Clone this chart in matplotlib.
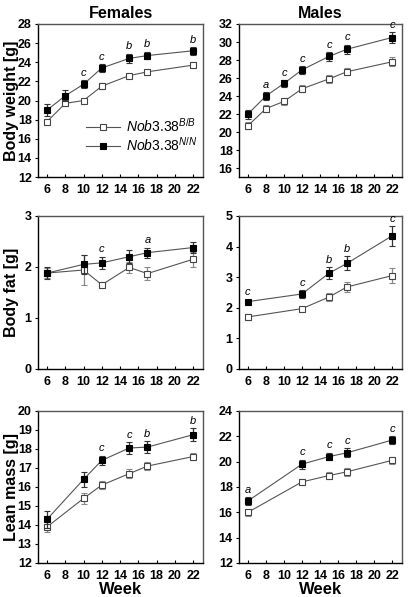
import numpy as np
import matplotlib
matplotlib.use("Agg")
import matplotlib.pyplot as plt
from matplotlib.lines import Line2D

plt.rcParams['font.family'] = ['Liberation Sans', 'DejaVu Sans']
plt.rcParams['mathtext.fontset'] = 'custom'
plt.rcParams['mathtext.it'] = 'Liberation Sans:italic'
plt.rcParams['mathtext.rm'] = 'Liberation Sans'

# data
weeks_bw = [6, 8, 10, 12, 15, 17, 22]
weeks_comp = [6, 10, 12, 15, 17, 22]
weeks_comp_m = [6, 12, 15, 17, 22]

# body weight, females
f_bw_bb = [17.8, 19.7, 20.0, 21.5, 22.6, 23.0, 23.7]
f_bw_bb_err = [0.3, 0.3, 0.2, 0.3, 0.2, 0.3, 0.3]
f_bw_nn = [19.0, 20.5, 21.7, 23.4, 24.4, 24.7, 25.2]
f_bw_nn_err = [0.6, 0.6, 0.4, 0.4, 0.5, 0.4, 0.4]
f_bw_sig = ['', '', 'c', 'c', 'b', 'b', 'b']

# body weight, males
m_bw_bb = [20.7, 22.6, 23.4, 24.8, 25.9, 26.7, 27.8]
m_bw_bb_err = [0.4, 0.4, 0.4, 0.4, 0.4, 0.4, 0.5]
m_bw_nn = [22.0, 24.0, 25.4, 26.9, 28.4, 29.2, 30.5]
m_bw_nn_err = [0.5, 0.4, 0.4, 0.4, 0.5, 0.5, 0.6]
m_bw_sig = ['', 'a', 'c', 'c', 'c', 'c', 'c']

# body fat, females
f_fat_bb = [1.88, 1.94, 1.65, 1.99, 1.87, 2.15]
f_fat_bb_err = [0.1, 0.3, 0.05, 0.1, 0.12, 0.15]
f_fat_nn = [1.88, 2.05, 2.08, 2.20, 2.28, 2.38]
f_fat_nn_err = [0.12, 0.18, 0.12, 0.13, 0.1, 0.1]
f_fat_sig = ['', '', 'c', '', 'a', '']

# body fat, males
m_fat_bb = [1.70, 1.97, 2.35, 2.68, 3.05]
m_fat_bb_err = [0.1, 0.07, 0.13, 0.15, 0.25]
m_fat_nn = [2.20, 2.45, 3.13, 3.45, 4.35]
m_fat_nn_err = [0.06, 0.13, 0.2, 0.23, 0.32]
m_fat_sig = ['c', 'c', 'b', 'b', 'c']

# lean mass, females
f_lean_bb = [13.9, 15.4, 16.1, 16.7, 17.1, 17.6]
f_lean_bb_err = [0.25, 0.3, 0.2, 0.25, 0.2, 0.2]
f_lean_nn = [14.3, 16.4, 17.4, 18.05, 18.1, 18.75]
f_lean_nn_err = [0.45, 0.4, 0.25, 0.3, 0.3, 0.35]
f_lean_sig = ['', '', 'c', 'c', 'b', 'b']

# lean mass, males
m_lean_bb = [16.0, 18.4, 18.9, 19.2, 20.1]
m_lean_bb_err = [0.3, 0.25, 0.25, 0.3, 0.25]
m_lean_nn = [16.9, 19.8, 20.4, 20.7, 21.7]
m_lean_nn_err = [0.3, 0.35, 0.3, 0.35, 0.3]
m_lean_sig = ['a', 'c', 'c', 'c', 'c']

xticks = [6, 8, 10, 12, 14, 16, 18, 20, 22]

fig = plt.figure(figsize=(4.17, 5.97), dpi=100)

left_x, left_w = 0.091, 0.396
right_x, right_w = 0.573, 0.391
rows = [(0.7035, 0.2563), (0.382, 0.2563), (0.057, 0.2546)]

panels = [
    (0, 0, weeks_bw, f_bw_bb, f_bw_bb_err, f_bw_nn, f_bw_nn_err, f_bw_sig, (12, 28), np.arange(12, 29, 2)),
    (0, 1, weeks_bw, m_bw_bb, m_bw_bb_err, m_bw_nn, m_bw_nn_err, m_bw_sig, (15, 32), np.arange(16, 33, 2)),
    (1, 0, weeks_comp, f_fat_bb, f_fat_bb_err, f_fat_nn, f_fat_nn_err, f_fat_sig, (0, 3), np.arange(0, 4, 1)),
    (1, 1, weeks_comp_m, m_fat_bb, m_fat_bb_err, m_fat_nn, m_fat_nn_err, m_fat_sig, (0, 5), np.arange(0, 6, 1)),
    (2, 0, weeks_comp, f_lean_bb, f_lean_bb_err, f_lean_nn, f_lean_nn_err, f_lean_sig, (12, 20), np.arange(12, 21, 1)),
    (2, 1, weeks_comp_m, m_lean_bb, m_lean_bb_err, m_lean_nn, m_lean_nn_err, m_lean_sig, (12, 24), np.arange(12, 25, 2)),
]
ylabels = ["Body weight [g]", "Body fat [g]", "Lean mass [g]"]

bb_style = dict(color='#555555', lw=0.8, marker='s', ms=4.2, mfc='white', mec='#444444', mew=0.8)
nn_style = dict(color='#555555', lw=0.8, marker='s', ms=4.2, mfc='black', mec='black', mew=0.8)

axes = {}
for r, c, wk, bb, bbe, nn, nne, sig, ylim, yt in panels:
    b, h = rows[r]
    if c == 0:
        ax = fig.add_axes([left_x, b, left_w, h])
    else:
        ax = fig.add_axes([right_x, b, right_w, h])
    axes[(r, c)] = ax

    ax.errorbar(wk, bb, yerr=bbe, ecolor='#888888', elinewidth=0.9,
                capsize=2.5, capthick=0.9, zorder=3, **bb_style)
    ax.errorbar(wk, nn, yerr=nne, ecolor='#333333', elinewidth=0.9,
                capsize=2.5, capthick=0.9, zorder=4, **nn_style)

    span = ylim[1] - ylim[0]
    for x, y, e, s in zip(wk, nn, nne, sig):
        if s:
            ax.text(x, y + e + span * 0.015, s, ha='center', va='bottom',
                    fontsize=8, style='italic')

    ax.set_xlim(5, 23.1)
    ax.set_ylim(*ylim)
    ax.set_xticks(xticks)
    ax.set_yticks(yt)
    ax.tick_params(axis='x', direction='in', length=2.5, labelsize=9, pad=5)
    ax.tick_params(axis='y', direction='out', length=2.5, labelsize=9, pad=2)
    for lab in ax.get_xticklabels() + ax.get_yticklabels():
        lab.set_fontweight('bold')
    ax.spines['left'].set_color('black')
    ax.spines['bottom'].set_color('black')
    ax.spines['top'].set_color('#555555')
    ax.spines['right'].set_color('#555555')
    for sp in ax.spines.values():
        sp.set_linewidth(1.0)

    if c == 0:
        ax.set_ylabel(ylabels[r], fontsize=11.5, fontweight='bold', va='center')
        ax.yaxis.set_label_coords(-0.163, 0.5)
    if r == 2:
        ax.set_xlabel("Week", fontsize=12, fontweight='bold', labelpad=0)

axes[(0, 0)].set_title("Females", fontsize=11.5, fontweight='bold', pad=4)
axes[(0, 1)].set_title("Males", fontsize=11.5, fontweight='bold', pad=4)

handles = [Line2D([], [], **bb_style), Line2D([], [], **nn_style)]
labels = [r'$\it{Nob3.38}^{B/B}$', r'$\it{Nob3.38}^{N/N}$']
leg = axes[(0, 0)].legend(handles, labels, loc='lower right', bbox_to_anchor=(1.04, 0.07),
                          frameon=False, fontsize=10, handlelength=2.5, handletextpad=0.4,
                          labelspacing=0.1, markerscale=1.15)

fig.savefig("out.png", dpi=100)
